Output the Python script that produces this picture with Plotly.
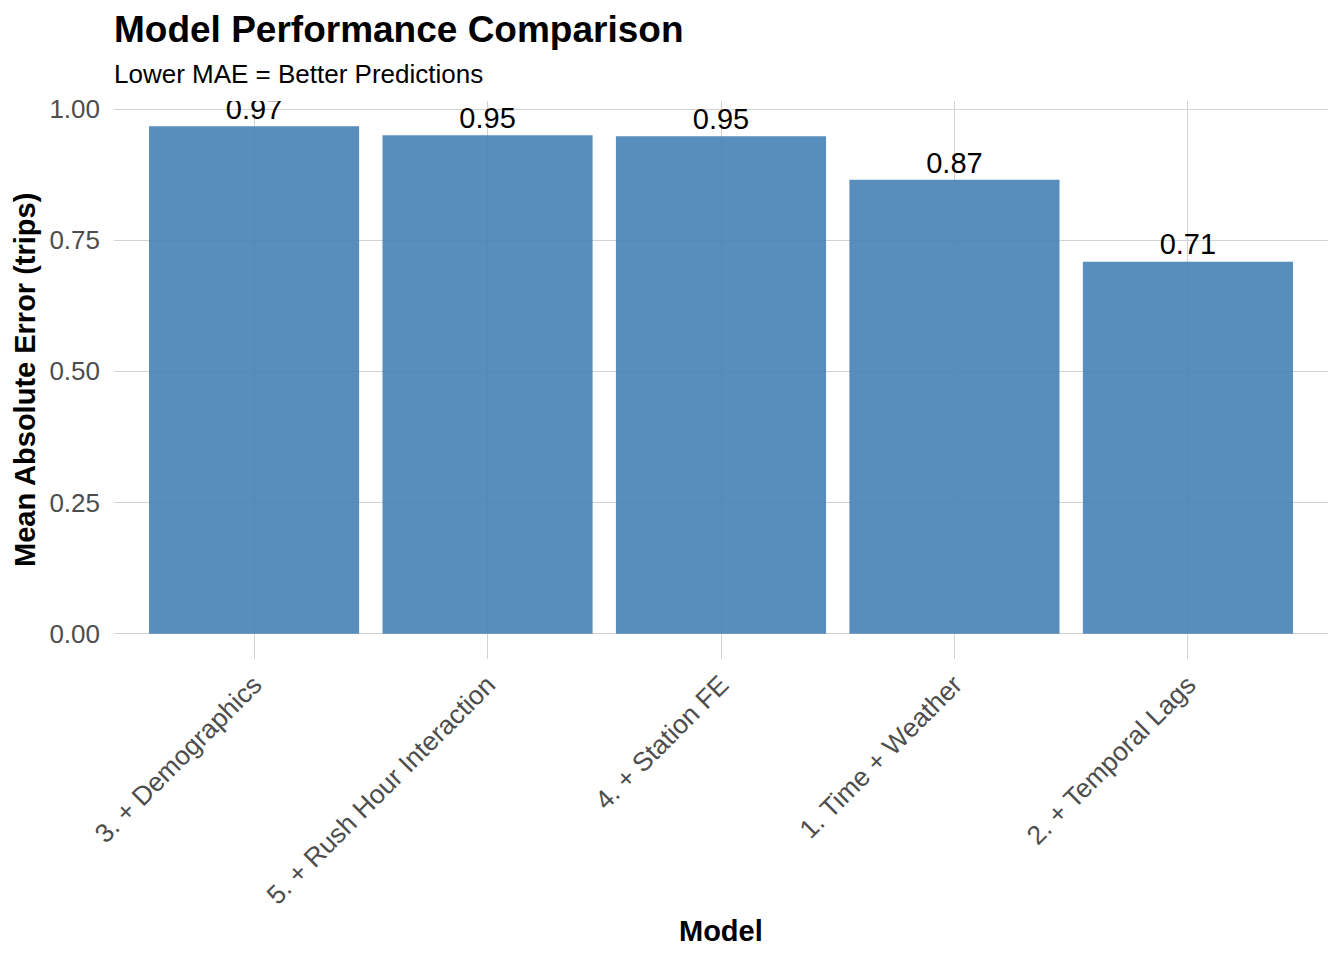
import plotly.graph_objects as go

models = ["3. + Demographics", "5. + Rush Hour Interaction", "4. + Station FE",
          "1. Time + Weather", "2. + Temporal Lags"]
mae = [0.967, 0.950, 0.948, 0.865, 0.709]
labels = ["0.97", "0.95", "0.95", "0.87", "0.71"]
ytick_vals = [0, 0.25, 0.5, 0.75, 1.0]
ytick_text = ["0.00", "0.25", "0.50", "0.75", "1.00"]

FONT = "Liberation Sans, Arial, Helvetica, sans-serif"
GRID = "#D2D2D2"

fig = go.Figure()
fig.add_trace(go.Bar(
    x=models, y=mae, width=0.9,
    marker=dict(color="rgba(70,130,180,0.9)", line=dict(width=0)),
    hoverinfo="skip", showlegend=False,
))
fig.add_trace(go.Scatter(
    x=models, y=mae, mode="text", text=labels, textposition="top center",
    textfont=dict(family=FONT, size=29, color="black"),
    cliponaxis=True, showlegend=False, hoverinfo="skip",
))

ymax = max(mae)
pad = ymax * 0.05
# page has an 8px body margin: figure is 8px smaller and margins shifted by 8px
fig.update_layout(
    width=1336, height=952,
    margin=dict(l=106, r=16, t=93, b=301),
    paper_bgcolor="white", plot_bgcolor="white",
    font=dict(family=FONT, color="#4D4D4D"),
    xaxis=dict(
        type="category", range=[-0.6, len(models) - 0.4],
        showgrid=True, gridcolor=GRID, gridwidth=1, showline=False, zeroline=False,
        ticks="", ticklabelstandoff=4,
        tickangle=-45, tickfont=dict(size=26.5, color="#4D4D4D"),
        layer="below traces",
    ),
    yaxis=dict(
        range=[-pad, ymax + pad],
        tickvals=ytick_vals, ticktext=ytick_text,
        showgrid=True, gridcolor=GRID, gridwidth=1, showline=False, zeroline=False,
        ticks="", ticklabelstandoff=13,
        tickfont=dict(size=26, color="#4D4D4D"),
        layer="below traces",
    ),
    annotations=[
        dict(text="<b>Model Performance Comparison</b>", xref="paper", yref="paper",
             x=-0.0015, y=1 + (101 - 30) / 558, xanchor="left", yanchor="middle",
             showarrow=False, font=dict(family=FONT, size=37, color="black")),
        dict(text="Lower MAE = Better Predictions", xref="paper", yref="paper",
             x=-0.0015, y=1 + (101 - 74) / 558, xanchor="left", yanchor="middle",
             showarrow=False, font=dict(family=FONT, size=26, color="black")),
        dict(text="<b>Model</b>", xref="paper", yref="paper",
             x=0.5, y=-(931 - 659) / 558, xanchor="center", yanchor="middle",
             showarrow=False, font=dict(family=FONT, size=29, color="black")),
        dict(text="<b>Mean Absolute Error (trips)</b>", xref="paper", yref="paper",
             x=-(114 - 25) / 1214, y=0.5, xanchor="center", yanchor="middle",
             textangle=-90, showarrow=False, font=dict(family=FONT, size=29, color="black")),
    ],
)

fig.write_html("out.html")
